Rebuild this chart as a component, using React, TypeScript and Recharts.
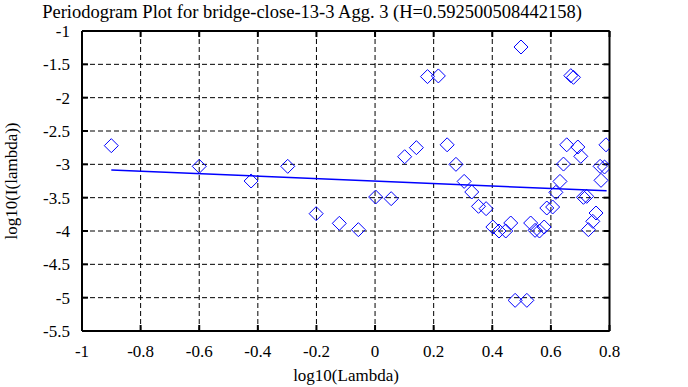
import React from 'react';
import { ComposedChart, Scatter, XAxis, YAxis, CartesianGrid } from 'recharts';

const logLambda = [
  -0.9, -0.6, -0.423, -0.298, -0.201, -0.122, -0.057, 0.002, 0.055, 0.101,
  0.141, 0.179, 0.216, 0.246, 0.276, 0.304, 0.33, 0.353, 0.379, 0.402,
  0.423, 0.446, 0.463, 0.478, 0.498, 0.518, 0.531, 0.546, 0.561, 0.577,
  0.586, 0.606, 0.617, 0.631, 0.643, 0.654, 0.668, 0.677, 0.692, 0.702,
  0.711, 0.722, 0.728, 0.743, 0.754, 0.768, 0.771, 0.783, 0.788,
];
const logPeriodogram = [
  -2.72, -3.03, -3.25, -3.03, -3.74, -3.885, -3.98, -3.49, -3.515, -2.886,
  -2.75, -1.684, -1.674, -2.707, -3.0, -3.256, -3.415, -3.63, -3.665, -3.94,
  -4.0, -4.0, -3.88, -5.04, -1.24, -5.04, -3.88, -3.99, -4.0, -3.94,
  -3.655, -3.64, -3.42, -3.256, -2.996, -2.707, -1.67, -1.695, -2.74, -2.88,
  -3.495, -3.48, -3.98, -3.855, -3.73, -3.03, -3.24, -3.04, -2.707,
];
const fitX = [-0.9, 0.79];
const fitY = [-3.085, -3.398];

const xTicks = [-1, -0.8, -0.6, -0.4, -0.2, 0, 0.2, 0.4, 0.6, 0.8];
const yTicks = [-1, -1.5, -2, -2.5, -3, -3.5, -4, -4.5, -5, -5.5];

const title = 'Periodogram Plot for bridge-close-13-3 Agg. 3 (H=0.592500508442158)';
const xLabel = 'log10(Lambda)';
const yLabel = 'log10(I(lambda))';

const points = logLambda.map((x, i) => ({ x, y: logPeriodogram[i] }));
const fitLine = fitX.map((x, i) => ({ x, y: fitY[i] }));

const FONT = 'Liberation Serif, Times New Roman, serif';
const BLUE = '#0000ff';

const Diamond = (p: any) => {
  const { cx, cy } = p;
  if (cx == null || cy == null) return <g />;
  const r = 7;
  return (
    <path
      d={`M${cx},${cy - r}L${cx + r},${cy}L${cx},${cy + r}L${cx - r},${cy}Z`}
      fill="none"
      stroke={BLUE}
      strokeWidth={1}
    />
  );
};

const tickStyle = { fontSize: 17, fontFamily: FONT, fill: '#000' };
const empty = () => <g />;

export default function App() {
  return (
    <div style={{ position: 'absolute', left: 0, top: 0, width: 688, height: 387, background: '#fff' }}>
      <ComposedChart
        width={688}
        height={387}
        margin={{ top: 21, right: 68.5, bottom: 16, left: 22 }}
      >
        <CartesianGrid stroke="#000" strokeDasharray="5 3" strokeWidth={1} />
        <XAxis
          xAxisId={0}
          type="number"
          dataKey="x"
          domain={[-1, 0.8]}
          ticks={xTicks}
          height={40}
          axisLine={{ stroke: '#000', strokeWidth: 2 }}
          tickLine={{ stroke: '#000', strokeWidth: 2 }}
          tickSize={-6}
          tickMargin={20}
          tick={tickStyle}
          interval={0}
          allowDataOverflow
        />
        <XAxis
          xAxisId="top"
          orientation="top"
          type="number"
          dataKey="x"
          domain={[-1, 0.8]}
          ticks={xTicks}
          height={10}
          axisLine={{ stroke: '#000', strokeWidth: 2 }}
          tickLine={{ stroke: '#000', strokeWidth: 2 }}
          tickSize={-6}
          tick={empty}
          interval={0}
          allowDataOverflow
        />
        <YAxis
          yAxisId={0}
          type="number"
          dataKey="y"
          domain={[-5.5, -1]}
          ticks={yTicks}
          width={60}
          axisLine={{ stroke: '#000', strokeWidth: 2 }}
          tickLine={{ stroke: '#000', strokeWidth: 2 }}
          tickSize={-6}
          tickMargin={18}
          tick={tickStyle}
          interval={0}
          allowDataOverflow
        />
        <YAxis
          yAxisId="right"
          orientation="right"
          type="number"
          dataKey="y"
          domain={[-5.5, -1]}
          ticks={yTicks}
          width={10}
          axisLine={{ stroke: '#000', strokeWidth: 2 }}
          tickLine={{ stroke: '#000', strokeWidth: 2 }}
          tickSize={-6}
          tick={empty}
          interval={0}
          allowDataOverflow
        />
        <Scatter
          data={fitLine}
          xAxisId={0}
          yAxisId={0}
          line={{ stroke: BLUE, strokeWidth: 1.5 }}
          shape={empty}
          isAnimationActive={false}
        />
        <Scatter
          data={points}
          xAxisId={0}
          yAxisId={0}
          shape={Diamond}
          isAnimationActive={false}
        />
      </ComposedChart>
      <svg
        width={688}
        height={387}
        style={{ position: 'absolute', left: 0, top: 0, pointerEvents: 'none' }}
      >
        <text x={312} y={18} textAnchor="middle" fontSize={18.5} fontFamily={FONT} fill="#000">
          {title}
        </text>
        <text x={346} y={381} textAnchor="middle" fontSize={17} fontFamily={FONT} fill="#000">
          {xLabel}
        </text>
        <text
          x={0}
          y={0}
          transform="translate(17,181) rotate(-90)"
          textAnchor="middle"
          fontSize={17}
          fontFamily={FONT}
          fill="#000"
        >
          {yLabel}
        </text>
      </svg>
    </div>
  );
}
